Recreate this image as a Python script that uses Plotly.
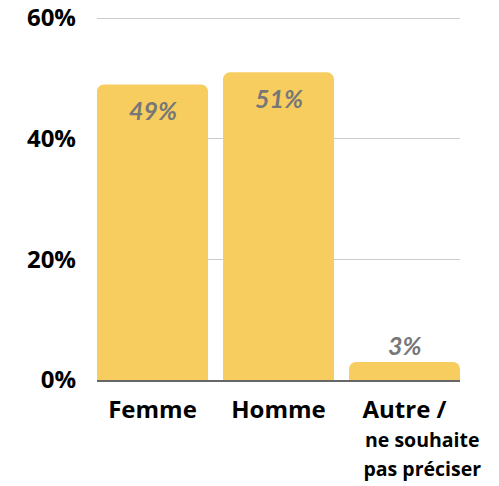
import plotly.graph_objects as go

categories = ["Femme", "Homme", "Autre"]
values = [49, 51, 3]
value_labels = ["49%", "51%", "3%"]
tick_lines = [["Femme"], ["Homme"], ["Autre /", "ne souhaite", "pas préciser"]]
y_ticks = [0, 20, 40, 60]
y_tick_labels = ["0%", "20%", "40%", "60%"]

FONT = "Open Sans"
LABEL_FONT = "Lato"
BAR = "#F6CD5E"
BARGAP = 0.119

def fmt_tick(lines):
    out = [f"<span style='font-size:24px'><b>{lines[0]}</b></span>"]
    for ln in lines[1:]:
        out.append(f"<span style='font-size:19.5px'><b>{'&nbsp;' * 7}{ln}</b></span>")
    return "<br>".join(out)

fig = go.Figure()
fig.add_trace(go.Bar(
    x=categories, y=values, marker=dict(color=BAR, line=dict(width=0)),
    hoverinfo="skip", showlegend=False,
))

for c, v, t in zip(categories, values, value_labels):
    inside = v > 10
    fig.add_annotation(
        x=c, y=v, text=f"<b><i>{t}</i></b>", showarrow=False,
        yshift=-26 if inside else 17, yanchor="middle",
        font=dict(family=LABEL_FONT, size=25, color="#777777"),
    )

half = (1 - BARGAP) / 2
fig.update_layout(
    width=499, height=486,
    margin=dict(l=97, r=39, t=12, b=106),
    paper_bgcolor="white", plot_bgcolor="white",
    bargap=BARGAP, barcornerradius=7,
    font=dict(family=FONT, color="black"),
    xaxis=dict(
        tickmode="array", tickvals=categories, ticktext=[fmt_tick(t) for t in tick_lines],
        range=[-half, len(categories) - 1 + half],
        tickfont=dict(family=FONT, size=22.5, color="black"), tickangle=0,
        showline=True, linecolor="#666666", linewidth=1.5,
        ticks="", showgrid=False, automargin=False, ticklabelstandoff=9,
    ),
    yaxis=dict(
        range=[0, 61], tickmode="array", tickvals=y_ticks,
        ticktext=[f"<b>{t}</b>" for t in y_tick_labels],
        tickfont=dict(family=FONT, size=24, color="black"),
        showgrid=True, gridcolor="#cccccc", gridwidth=1,
        zeroline=False, ticks="", ticklabelstandoff=20, automargin=False,
    ),
)

fig.write_html("out.html")
